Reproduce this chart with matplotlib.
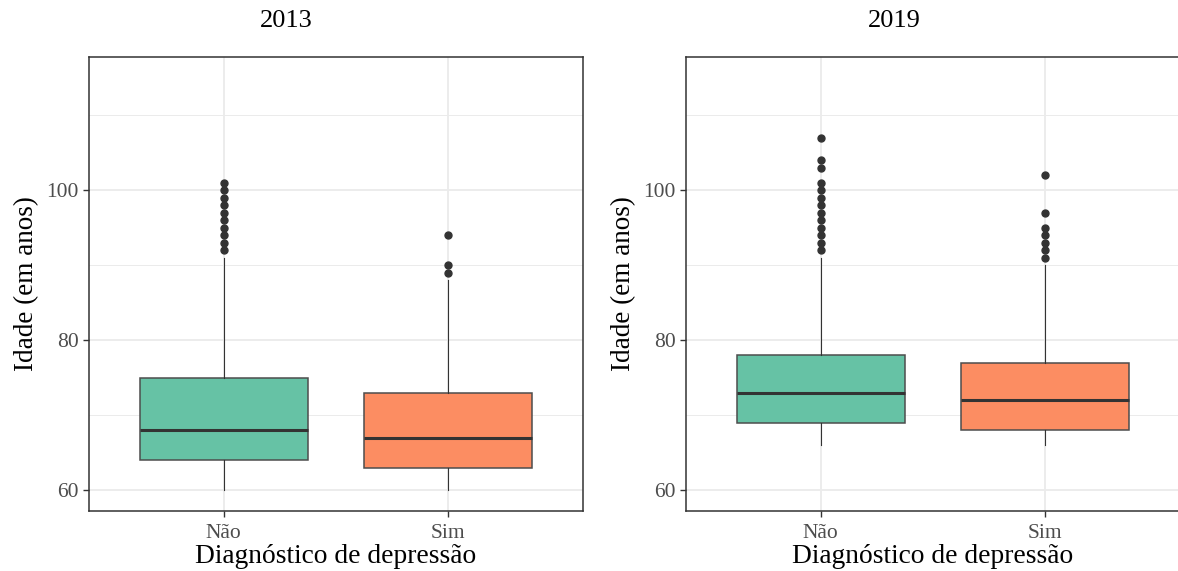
import matplotlib
matplotlib.use("Agg")
import matplotlib.pyplot as plt
from matplotlib.ticker import FixedLocator

plt.rcParams["font.family"] = ["Liberation Serif", "DejaVu Serif"]

categories = ["Não", "Sim"]
years = ["2013", "2019"]
fill_colors = ["#66C2A5", "#FC8D62"]

# Box statistics (age in years) by depression diagnosis
whislo_2013 = [60, 60]
q1_2013 = [64, 63]
med_2013 = [68, 67]
q3_2013 = [75, 73]
whishi_2013 = [91, 88]
fliers_2013 = [[92, 93, 94, 95, 96, 97, 98, 99, 100, 101], [89, 90, 94]]

whislo_2019 = [66, 66]
q1_2019 = [69, 68]
med_2019 = [73, 72]
q3_2019 = [78, 77]
whishi_2019 = [91, 90]
fliers_2019 = [[92, 93, 94, 95, 96, 97, 98, 99, 100, 101, 103, 104, 107],
               [91, 92, 93, 94, 95, 97, 102]]

panels = [
    (whislo_2013, q1_2013, med_2013, q3_2013, whishi_2013, fliers_2013),
    (whislo_2019, q1_2019, med_2019, q3_2019, whishi_2019, fliers_2019),
]

W, H = 1178, 571
fig = plt.figure(figsize=(W / 100, H / 100), dpi=100)

ax_left_px = [89, 686]
ax_w_px, ax_top_px, ax_bot_px = 494, 57, 511
title_x_px = [286, 894]

for i, (lo, q1, med, q3, hi, fl) in enumerate(panels):
    ax = fig.add_axes([ax_left_px[i] / W, (H - ax_bot_px) / H,
                       ax_w_px / W, (ax_bot_px - ax_top_px) / H])
    stats = []
    for j in range(len(categories)):
        stats.append(dict(whislo=lo[j], q1=q1[j], med=med[j], q3=q3[j],
                          whishi=hi[j], fliers=fl[j], label=categories[j]))
    bp = ax.bxp(stats, positions=[1, 2], widths=0.75, patch_artist=True,
                showcaps=False,
                boxprops=dict(edgecolor="#4D4D4D", linewidth=1.1),
                medianprops=dict(color="#333333", linewidth=2.2),
                whiskerprops=dict(color="#333333", linewidth=0.8),
                flierprops=dict(marker="o", markersize=5,
                                markerfacecolor="#333333",
                                markeredgecolor="#333333"))
    for patch, c in zip(bp["boxes"], fill_colors):
        patch.set_facecolor(c)
        patch.set_zorder(3)
    for ln in bp["medians"] + bp["whiskers"] + bp["fliers"]:
        ln.set_zorder(4)

    ax.set_xlim(0.4, 2.6)
    ax.set_ylim(57.25, 117.75)
    ax.yaxis.set_major_locator(FixedLocator([60, 80, 100]))
    ax.yaxis.set_minor_locator(FixedLocator([70, 90, 110]))
    ax.set_xticks([1, 2])
    ax.set_xticklabels(categories)

    ax.grid(True, which="major", color="#EBEBEB", linewidth=1.3, zorder=0)
    ax.grid(True, which="minor", axis="y", color="#EBEBEB", linewidth=0.7, zorder=0)
    ax.set_axisbelow(True)
    ax.tick_params(axis="both", which="major", length=4, width=1,
                   color="#333333", labelcolor="#4D4D4D", labelsize=15.5)
    ax.tick_params(axis="x", which="major", pad=5)
    ax.tick_params(axis="y", which="minor", length=0)
    for s in ax.spines.values():
        s.set_color("#333333")
        s.set_linewidth(1.1)

    ax.set_ylabel("Idade (em anos)", fontsize=19.5, color="black", labelpad=5)
    ax.set_xlabel("Diagnóstico de depressão", fontsize=19.8, color="black", labelpad=1)
    fig.text(title_x_px[i] / W, 1 - 21 / H, years[i], ha="center", va="center",
             fontsize=19, color="black")

fig.savefig("out.png", dpi=100)
